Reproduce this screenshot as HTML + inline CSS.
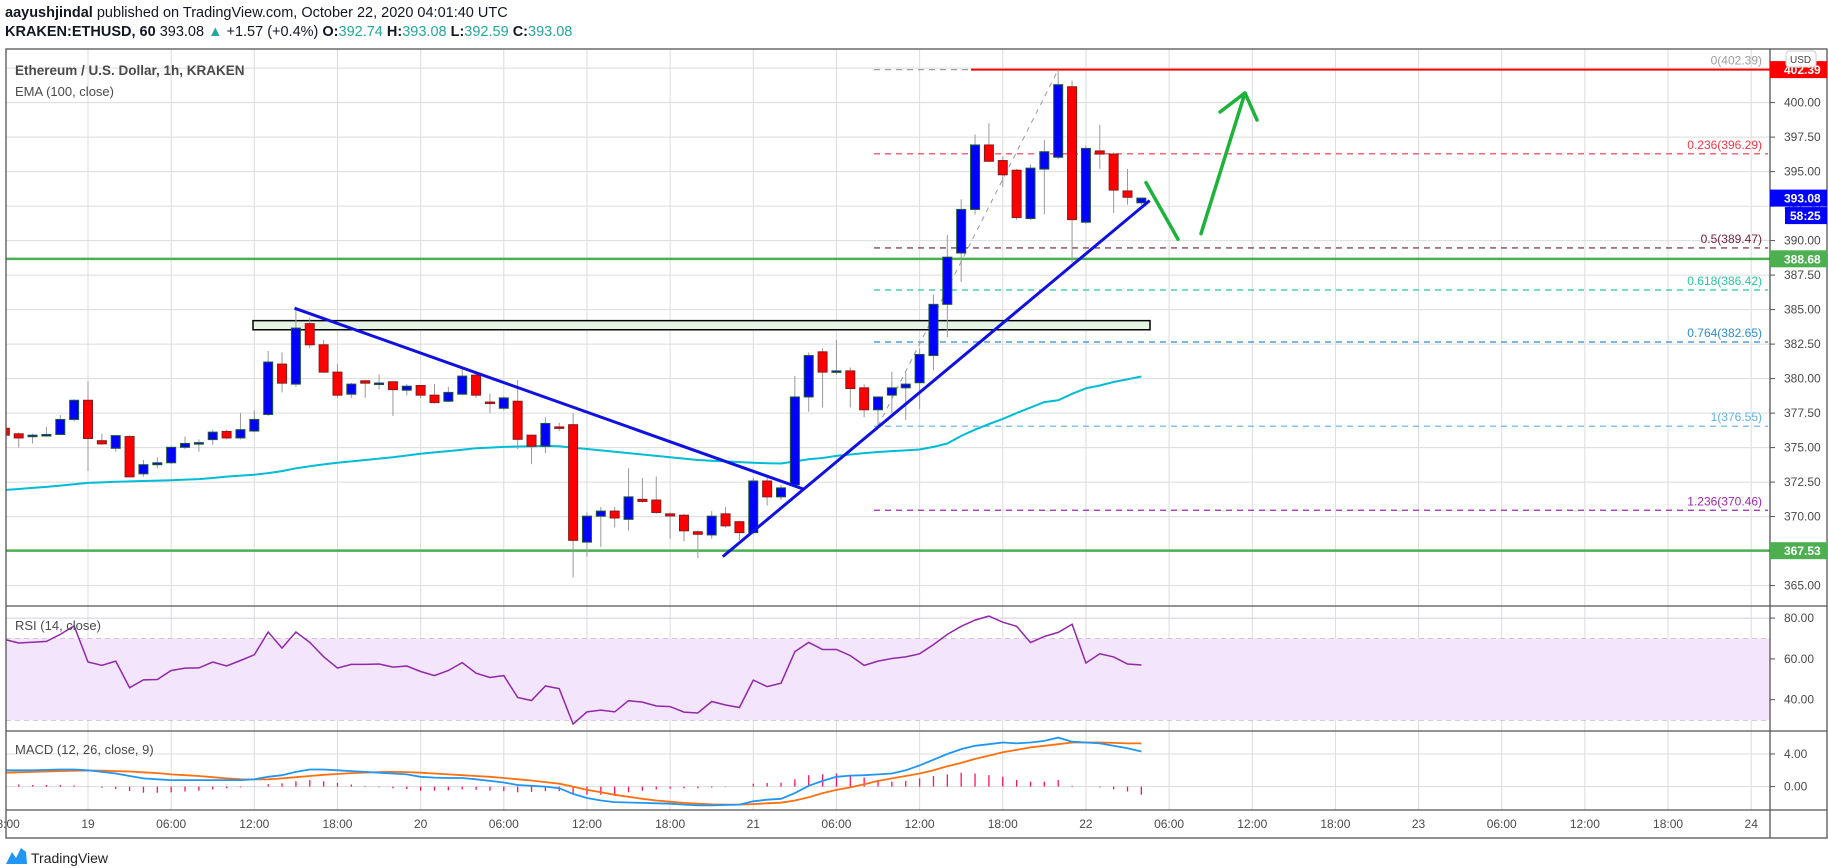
<!DOCTYPE html>
<html><head><meta charset="utf-8">
<style>
html,body{margin:0;padding:0;background:#fff;width:1828px;height:868px;overflow:hidden;font-family:"Liberation Sans",sans-serif;}
.hdr{position:absolute;left:5px;font-size:14.5px;color:#131722;white-space:nowrap;}
</style></head>
<body>
<div class="hdr" style="top:5px"><b>aayushjindal</b> published on TradingView.com, October 22, 2020 04:01:40 UTC</div>
<div class="hdr" style="top:24px"><b>KRAKEN:ETHUSD, 60</b> 393.08 <span style="color:#26a69a">▲</span> +1.57 (+0.4%) <b>O:</b><span style="color:#26a69a">392.74</span> <b>H:</b><span style="color:#26a69a">393.08</span> <b>L:</b><span style="color:#26a69a">392.59</span> <b>C:</b><span style="color:#26a69a">393.08</span></div>
<svg id="chart" width="1828" height="868" style="position:absolute;left:0;top:0" xmlns="http://www.w3.org/2000/svg"></svg>
<script>
const opens=[376.4,376.0,375.9,375.9,375.95,377.04,378.43,375.5,374.95,375.8,373.1,373.76,373.9,375.02,375.34,375.58,376.17,375.7,376.2,377.4,381.05,379.6,383.98,382.45,380.47,378.87,379.84,379.67,379.77,379.16,379.5,378.8,378.36,378.87,380.25,378.3,377.85,378.36,375.9,375.1,376.5,376.66,368.15,370.03,370.4,369.8,371.25,371.2,370.2,370.1,368.9,368.67,370.2,369.63,368.84,372.58,371.43,372.3,378.67,381.94,380.5,380.56,379.33,377.74,378.8,379.33,379.7,381.67,385.38,389.1,392.26,396.93,395.8,395.1,391.6,395.18,396.04,401.15,391.33,396.5,396.27,393.6,392.74];
const highs=[376.6,376.1,376.0,376.5,377.36,378.5,379.8,376.0,375.9,375.9,374.1,374.3,375.1,375.8,375.6,376.3,376.3,377.5,377.7,382.0,381.9,385.1,384.4,382.8,381.05,379.7,379.9,380.3,379.8,379.6,379.5,379.6,379.4,380.7,380.3,378.9,378.7,379.9,375.95,377.2,376.8,377.5,370.3,370.7,370.7,373.5,372.8,372.9,370.3,370.2,369.0,370.4,370.7,369.7,372.8,372.8,372.3,380.2,381.9,382.2,382.8,380.8,379.6,378.3,380.5,380.5,382.2,386.1,390.4,393.0,397.7,398.5,396.1,395.2,395.5,397.3,402.39,401.6,396.9,398.4,396.4,395.2,393.08];
const lows=[375.8,375.0,375.3,375.8,375.9,376.9,373.3,375.2,374.7,372.85,372.9,373.5,373.8,374.9,374.7,375.2,375.6,375.6,376.1,377.3,379.0,379.4,382.2,380.4,378.6,378.6,378.6,379.2,377.3,378.8,378.6,378.2,378.3,378.8,378.6,377.5,377.7,374.9,373.8,374.6,376.2,365.6,367.1,367.8,369.2,369.0,371.0,370.2,368.4,368.2,367.0,368.4,369.2,368.3,368.7,370.8,371.2,372.1,377.6,377.9,380.3,377.9,377.2,376.55,377.5,377.0,377.8,380.6,383.0,387.0,391.9,395.7,393.9,391.5,391.5,391.9,395.9,388.4,391.2,395.2,392.0,392.6,392.59];
const closes=[375.9,375.7,375.9,375.95,377.04,378.43,375.66,375.27,375.87,372.88,373.76,373.9,375.02,375.3,375.36,376.12,375.7,376.3,377.04,381.2,379.67,383.66,382.45,380.47,378.8,379.6,379.67,379.68,379.2,379.45,378.8,378.26,379.0,380.18,378.8,378.26,378.6,375.6,375.1,376.75,376.4,368.28,370.03,370.4,369.9,371.43,371.1,370.3,370.05,368.97,368.72,370.03,369.33,368.84,372.58,371.43,372.08,378.67,381.67,380.47,380.56,379.28,377.74,378.67,379.33,379.6,381.75,385.38,388.8,392.26,396.93,395.75,394.77,391.67,395.25,396.44,401.3,391.52,396.68,396.27,393.66,393.14,393.08];
const ema=[371.93,372.0,372.08,372.15,372.25,372.35,372.44,372.48,372.52,372.55,372.58,372.61,372.64,372.68,372.72,372.8,372.9,372.97,373.03,373.15,373.3,373.5,373.65,373.78,373.9,374.0,374.1,374.2,374.3,374.43,374.56,374.65,374.75,374.85,374.95,375.0,375.05,375.08,375.1,375.12,375.1,374.99,374.9,374.8,374.7,374.6,374.5,374.4,374.3,374.2,374.1,374.05,374.0,373.95,373.9,373.87,373.85,374.0,374.15,374.25,374.4,374.5,374.6,374.68,374.75,374.8,374.86,375.05,375.3,375.85,376.3,376.7,377.08,377.5,377.9,378.3,378.43,378.9,379.3,379.5,379.75,379.95,380.15];
const rsi=[69.5,67.8,68.2,68.6,72,76.2,58.5,56.8,58.9,45.9,49.7,49.9,54.3,55.5,55.6,58.5,56.5,59.2,62.0,73.2,65.3,73.2,68.1,61.1,55.5,57.3,57.3,57.5,56,56.5,53.8,51.8,54.3,58.2,53,50.9,51.8,41.1,39.6,46.7,45.4,28.1,34,34.9,34,39.5,38.8,36.9,36.6,33.9,33.5,39.1,37.4,36.2,49.6,46.4,48.1,63.6,68.1,64.6,64.6,61.6,56.8,58.9,60.2,61,62.5,67,72,76,79,81,78,76,68,71,73,77,58,62.5,61,57.5,57];
const macd=[2.0,2.0,2.0,2.05,2.1,2.1,2.0,1.8,1.6,1.3,1.0,0.9,0.8,0.8,0.8,0.8,0.8,0.8,0.9,1.2,1.4,1.8,2.1,2.1,2.0,1.9,1.8,1.7,1.6,1.5,1.2,1.1,1.05,1.05,0.9,0.7,0.5,0.2,0.1,0.0,-0.2,-0.9,-1.4,-1.7,-1.9,-1.95,-2.0,-2.05,-2.1,-2.2,-2.3,-2.3,-2.25,-2.2,-1.8,-1.6,-1.5,-0.8,0.1,0.7,1.2,1.35,1.4,1.5,1.6,2.0,2.6,3.3,4.0,4.6,5.0,5.2,5.4,5.3,5.4,5.6,6.0,5.5,5.4,5.3,5.0,4.7,4.3];
const signal=[1.7,1.75,1.8,1.85,1.9,1.95,1.97,1.95,1.9,1.85,1.75,1.65,1.5,1.4,1.3,1.15,1.0,0.9,0.88,0.9,1.0,1.15,1.3,1.45,1.55,1.65,1.72,1.78,1.8,1.78,1.7,1.6,1.5,1.4,1.3,1.2,1.05,0.9,0.75,0.55,0.35,0.0,-0.4,-0.7,-1.0,-1.25,-1.5,-1.7,-1.85,-2.0,-2.1,-2.18,-2.2,-2.2,-2.15,-2.05,-1.97,-1.7,-1.3,-0.8,-0.4,-0.1,0.3,0.7,1.0,1.3,1.6,2.0,2.5,2.9,3.4,3.8,4.2,4.5,4.8,5.0,5.2,5.4,5.4,5.4,5.35,5.3,5.3];
const priceTicks=["365.00","367.50","370.00","372.50","375.00","377.50","380.00","382.50","385.00","387.50","390.00","392.50","395.00","397.50","400.00"];
const rsiTicks=["80.00","60.00","40.00"];
const macdTicks=["4.00","0.00"];
const timeLabels=["18:00","19","06:00","12:00","18:00","20","06:00","12:00","18:00","21","06:00","12:00","18:00","22","06:00","12:00","18:00","23","06:00","12:00","18:00","24"];
const fibLevels=[0,0.236,0.5,0.618,0.764,1,1.236];
const fibPrices=[402.39,396.29,389.47,386.42,382.65,376.55,370.46];
const fibColors=["#9e9e9e","#f23645","#6d1e3d","#26c6a0","#2e8ccf","#5fb0e6","#9c27b0"];
const T0=-6;
const LEFT=6, RIGHT=1770, MAIN_T=49, MAIN_B=606, RSI_B=731, MACD_B=810, AX_B=838;
function xT(t){return 88+13.86*t;}
function yP(p){return 102.6+(400-p)*13.8;}
function yR(v){return 638.5+(70-v)*2.04;}
function yM(m){return 786.6-m*8.16;}
const svg=document.getElementById('chart');
const NS='http://www.w3.org/2000/svg';
function mk(tag,attrs,parent){const e=document.createElementNS(NS,tag);for(const k in attrs)e.setAttribute(k,attrs[k]);(parent||svg).appendChild(e);return e;}
// clip for plot
const defs=mk('defs',{});
const cp=mk('clipPath',{id:'plotclip'},defs);
mk('rect',{x:LEFT,y:MAIN_T,width:RIGHT-LEFT,height:MACD_B-MAIN_T},cp);
// grids
const grid=mk('g',{});


for(let k=0;k<22;k++){const x=xT(-6+6*k);if(x>LEFT&&x<RIGHT)mk('line',{x1:x,x2:x,y1:MAIN_T,y2:MACD_B,stroke:'#dcdcdc','stroke-width':1},grid);}
for(let p=365;p<=402.5;p+=2.5){mk('line',{x1:LEFT,x2:RIGHT,y1:yP(p),y2:yP(p),stroke:'#dcdcdc','stroke-width':1},grid);}
// RSI band
const band=mk('rect',{x:LEFT,y:yR(70),width:RIGHT-LEFT,height:yR(30)-yR(70),fill:'#f3e5fc'});


[80,60,40].forEach(v=>mk('line',{x1:LEFT,x2:RIGHT,y1:yR(v),y2:yR(v),stroke:'#d8cce0','stroke-width':1},grid));
[70,30].forEach(v=>mk('line',{x1:LEFT,x2:RIGHT,y1:yR(v),y2:yR(v),stroke:'#b0a4b8','stroke-width':1,'stroke-dasharray':'5,4'},grid));
[4,0].forEach(v=>mk('line',{x1:LEFT,x2:RIGHT,y1:yM(v),y2:yM(v),stroke:'#dcdcdc','stroke-width':1},grid));
const plot=mk('g',{'clip-path':'url(#plotclip)'});
// green support lines
[388.68,367.53].forEach((p,i)=>{const l=mk('line',{x1:LEFT,x2:RIGHT,y1:yP(p),y2:yP(p),stroke:'#4caf50','stroke-width':2.5},plot);

});
// resistance rectangle
const rect=mk('rect',{x:253,y:yP(384.2),width:1150-253,height:yP(383.54)-yP(384.2),fill:'#e6f4e6',stroke:'#000','stroke-width':1.5},plot);


// fib lines
const t57=57,t70=70;
fibPrices.forEach((p,i)=>{
 const l=mk('line',{x1:874,x2:1768,y1:yP(p),y2:yP(p),stroke:fibColors[i],'stroke-width':1.2,'stroke-dasharray':'6,5'},plot);
 
 
 const tx=mk('text',{x:1762,y:yP(p)-5,'text-anchor':'end','font-size':12,fill:fibColors[i]},plot);
 tx.textContent=fibLevels[i]+'('+p.toFixed(2)+')';
 
 
});
const rl=mk('line',{x1:971,x2:RIGHT,y1:yP(402.39),y2:yP(402.39),stroke:'#ff0000','stroke-width':2},plot);


const fd=mk('line',{x1:xT(t57),y1:yP(lows[t57-T0]),x2:xT(t70),y2:yP(highs[t70-T0]),stroke:'#999','stroke-width':1,'stroke-dasharray':'5,5'},plot);


// EMA
let d='';ema.forEach((v,i)=>{d+=(i?'L':'M')+xT(i+T0).toFixed(1)+','+yP(v).toFixed(1);});
const emaP=mk('path',{d:d,fill:'none',stroke:'#00bcd4','stroke-width':2},plot);


// candles
for(let i=0;i<opens.length;i++){
 const x=xT(i+T0),o=opens[i],c=closes[i],up=c>=o;
 const g=mk('g',{},plot);
 
 
 mk('line',{x1:x,x2:x,y1:yP(highs[i]),y2:yP(lows[i]),stroke:'#9a9a9a','stroke-width':1},g);
 const top=yP(Math.max(o,c)),h=Math.max(1.5,Math.abs(yP(o)-yP(c)));
 mk('rect',{x:x-4.5,y:top,width:9,height:h,fill:up?'#0000ff':'#ff0000',stroke:up?'#1e5a32':'#8b1a1a','stroke-width':1},g);
}
// trend lines
const dl=mk('line',{x1:xT(14.9),y1:yP(385.1),x2:xT(51.6),y2:yP(372.0),stroke:'#1010e0','stroke-width':3},plot);


const al=mk('line',{x1:xT(45.8),y1:yP(367.1),x2:xT(76.6),y2:yP(392.9),stroke:'#1010e0','stroke-width':3},plot);


// arrows
const ar=mk('path',{d:'M1146,'+yP(394.2)+' L1178,'+yP(390.1)+' M1201,'+yP(390.5)+' L1245,'+yP(400.7)+' M1220,112 L1245,'+yP(400.7)+' L1257,120',fill:'none',stroke:'#1db33a','stroke-width':3.5,'stroke-linecap':'round','stroke-linejoin':'round'},plot);


// RSI line
d='';rsi.forEach((v,i)=>{d+=(i?'L':'M')+xT(i+T0).toFixed(1)+','+yR(v).toFixed(1);});
const rp=mk('path',{d:d,fill:'none',stroke:'#9128a8','stroke-width':1.5},plot);


// MACD histogram
for(let i=0;i<macd.length;i++){const h=macd[i]-signal[i];const x=xT(i+T0);
 const b=mk('line',{x1:x,x2:x,y1:yM(0),y2:yM(h),stroke:'#ff1060','stroke-width':1.3},plot);
 
 }
d='';signal.forEach((v,i)=>{d+=(i?'L':'M')+xT(i+T0).toFixed(1)+','+yM(v).toFixed(1);});
const sp=mk('path',{d:d,fill:'none',stroke:'#ff7010','stroke-width':1.8},plot);


d='';macd.forEach((v,i)=>{d+=(i?'L':'M')+xT(i+T0).toFixed(1)+','+yM(v).toFixed(1);});
const mp=mk('path',{d:d,fill:'none',stroke:'#2196f3','stroke-width':1.8},plot);


// borders
const fr=mk('g',{});


mk('rect',{x:LEFT,y:MAIN_T,width:1828-LEFT-1,height:AX_B-MAIN_T,fill:'none',stroke:'#555','stroke-width':1.3},fr);
mk('line',{x1:RIGHT,x2:RIGHT,y1:MAIN_T,y2:AX_B,stroke:'#555','stroke-width':1.3},fr);
[MAIN_B,RSI_B,MACD_B].forEach(y=>mk('line',{x1:LEFT,x2:1827,y1:y,y2:y,stroke:'#555','stroke-width':1.3},fr));
// pane titles
function label(txt,x,y,size,weight,name){const t=mk('text',{x:x,y:y,'font-size':size,fill:'#4a4a4a','font-weight':weight||'normal'});t.textContent=txt;return t;}
label('Ethereum / U.S. Dollar, 1h, KRAKEN',15,75,13.5,'bold','chart-title');
label('EMA (100, close)',15,96,13,'normal','ema-legend');
label('RSI (14, close)',15,630,13,'normal','rsi-legend');
label('MACD (12, 26, close, 9)',15,754,13,'normal','macd-legend');
// axis ticks
priceTicks.forEach(s=>{const y=yP(parseFloat(s));mk('line',{x1:RIGHT,x2:RIGHT+5,y1:y,y2:y,stroke:'#555'});label(s,1784,y+4,12,'normal','price-tick');});
rsiTicks.forEach(s=>{const y=yR(parseFloat(s));mk('line',{x1:RIGHT,x2:RIGHT+5,y1:y,y2:y,stroke:'#555'});label(s,1784,y+4,12,'normal','rsi-tick');});
macdTicks.forEach(s=>{const y=yM(parseFloat(s));mk('line',{x1:RIGHT,x2:RIGHT+5,y1:y,y2:y,stroke:'#555'});label(s,1784,y+4,12,'normal','macd-tick');});
timeLabels.forEach((s,k)=>{const x=xT(-6+6*k);const t=label(s,x,828,12,'normal','time-label');t.setAttribute('text-anchor','middle');});
// price badges
function badge(p,bg,txt,name){const y=yP(p);const g=mk('g',{});
 mk('rect',{x:RIGHT,y:y-8.5,width:57,height:17,fill:bg},g);const t=mk('text',{x:1784,y:y+4.5,'font-size':12,fill:'#fff','font-weight':'bold'},g);t.textContent=txt;}
badge(402.39,'#ff0000','402.39','high-price-badge');
badge(393.08,'#0000ff','393.08','last-price-badge');
badge(388.68,'#4caf50','388.68','support-388-badge');
badge(367.53,'#4caf50','367.53','support-367-badge');
const cd=mk('g',{});
mk('rect',{x:1785,y:yP(393.08)+9,width:42,height:17,fill:'#0000ff'},cd);
const ct=mk('text',{x:1790,y:yP(393.08)+22,'font-size':12,fill:'#fff','font-weight':'bold'},cd);ct.textContent='58:25';
const ub=mk('g',{});
mk('rect',{x:1786,y:51,width:30,height:16,rx:3,fill:'#fff',stroke:'#ccc'},ub);
const ut=mk('text',{x:1790,y:63,'font-size':10,fill:'#444'},ub);ut.textContent='USD';
// logo
const lg=mk('g',{});
mk('path',{d:'M6,864 L12,852 L16,858 L21,848 L26,852 L27,864 Z',fill:'#2196f3'},lg);
const lt=mk('text',{x:31,y:863,'font-size':14,fill:'#222'},lg);lt.textContent='TradingView';
</script>
</body></html>
